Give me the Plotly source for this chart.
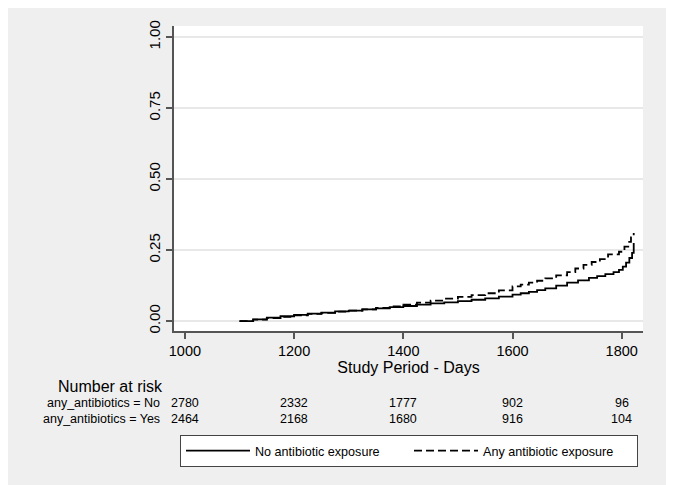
import plotly.graph_objects as go

# Cumulative incidence (step function)
days_no = [1100, 1125, 1150, 1175, 1200, 1225, 1250, 1275, 1300, 1325, 1350, 1375, 1400, 1425,
           1450, 1475, 1500, 1525, 1550, 1575, 1600, 1615, 1630, 1645, 1660, 1680, 1700, 1720,
           1740, 1755, 1770, 1785, 1795, 1802, 1808, 1814, 1819, 1822]
risk_no = [0.000, 0.006, 0.012, 0.017, 0.022, 0.026, 0.030, 0.034, 0.037, 0.041, 0.045, 0.049, 0.053, 0.058,
           0.062, 0.066, 0.070, 0.075, 0.080, 0.086, 0.093, 0.098, 0.103, 0.109, 0.115, 0.125, 0.135, 0.143,
           0.152, 0.158, 0.165, 0.172, 0.180, 0.192, 0.206, 0.222, 0.240, 0.275]

days_any = [1100, 1125, 1150, 1175, 1200, 1225, 1250, 1275, 1300, 1325, 1350, 1375, 1400, 1425,
            1450, 1475, 1500, 1525, 1550, 1575, 1600, 1615, 1630, 1645, 1660, 1680, 1700, 1715,
            1730, 1745, 1760, 1775, 1795, 1805, 1812, 1817, 1822]
risk_any = [0.000, 0.005, 0.010, 0.015, 0.020, 0.025, 0.029, 0.033, 0.037, 0.041, 0.046, 0.052, 0.058, 0.065,
            0.072, 0.079, 0.085, 0.091, 0.098, 0.108, 0.122, 0.128, 0.135, 0.142, 0.150, 0.161, 0.172, 0.185,
            0.198, 0.208, 0.218, 0.235, 0.244, 0.262, 0.279, 0.295, 0.310]

tick_days = [1000, 1200, 1400, 1600, 1800]
y_ticks = [0.0, 0.25, 0.5, 0.75, 1.0]
y_tick_text = ["0.00", "0.25", "0.50", "0.75", "1.00"]
at_risk_no = [2780, 2332, 1777, 902, 96]
at_risk_yes = [2464, 2168, 1680, 916, 104]
row_labels = ["any_antibiotics = No", "any_antibiotics = Yes"]

FONT = "Liberation Sans, Arial, Helvetica, sans-serif"
AXIS_COL = "#555555"

# page body adds an 8px offset; plot area targeted at page px x 174..643, y 26..331
OFF = 8
W, H = 674, 485
PL, PR, PT, PB = 174, 643, 26, 331

fig = go.Figure()
fig.add_trace(go.Scatter(x=days_no, y=risk_no, mode="lines", name="No antibiotic exposure",
                         line=dict(color="black", width=1.8, shape="hv")))
fig.add_trace(go.Scatter(x=days_any, y=risk_any, mode="lines", name="Any antibiotic exposure",
                         line=dict(color="black", width=1.8, shape="hv", dash="8px,4px")))

annotations = []
PH = float(PB - PT)
PW = float(PR - PL)
def py(p):
    return (PB - p) / PH
def px(p):
    return (p - PL) / PW

annotations.append(dict(text="Number at risk", x=px(110), xref="paper", y=py(386), yref="paper",
                        showarrow=False, xanchor="center", yanchor="middle",
                        font=dict(size=16, color="black", family=FONT)))
for lab, ypix in zip(row_labels, [403, 419]):
    annotations.append(dict(text=lab, x=px(162), xref="paper", y=py(ypix), yref="paper",
                            showarrow=False, xanchor="right", yanchor="middle",
                            font=dict(size=12.5, color="black", family=FONT)))
for vals, ypix in zip([at_risk_no, at_risk_yes], [403, 419]):
    for d, v in zip(tick_days, vals):
        annotations.append(dict(text=str(v), x=d, xref="x", y=py(ypix), yref="paper",
                                showarrow=False, xanchor="center", yanchor="middle",
                                font=dict(size=12.5, color="black", family=FONT)))

fig.update_layout(
    width=W, height=H,
    paper_bgcolor="#efefef", plot_bgcolor="white",
    margin=dict(l=PL - OFF, r=W - (PR - OFF), t=PT - OFF, b=H - (PB - OFF), pad=0),
    font=dict(family=FONT, color="black"),
    xaxis=dict(range=[980, 1839], tickvals=tick_days, ticks="outside", ticklen=6, tickwidth=1.5,
               tickcolor=AXIS_COL, showline=True, linecolor=AXIS_COL, linewidth=1.5, showgrid=False,
               zeroline=False, tickfont=dict(size=14.5, color="black"),
               title=dict(text="Study Period - Days", font=dict(size=16, color="black"), standoff=4)),
    yaxis=dict(range=[-0.035, 1.039], tickvals=y_ticks, ticktext=y_tick_text, tickangle=-90,
               ticks="outside", ticklen=6, tickwidth=1.5, tickcolor=AXIS_COL, showline=True,
               linecolor=AXIS_COL, linewidth=1.5, showgrid=True, gridcolor="#e8e8e8", gridwidth=1.5,
               zeroline=False, tickfont=dict(size=15, color="black")),
    legend=dict(orientation="h", x=px(180), xanchor="left", y=py(435), yanchor="top",
                bgcolor="white", bordercolor="#444444", borderwidth=1,
                font=dict(size=12.6, color="black"), itemwidth=64, entrywidth=149,
                traceorder="normal"),
    annotations=annotations,
)

fig.write_html("out.html")
